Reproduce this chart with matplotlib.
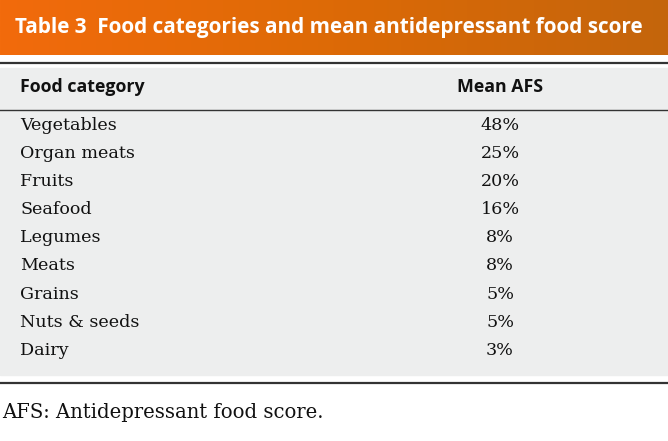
import matplotlib
matplotlib.use("Agg")
import matplotlib.pyplot as plt
import numpy as np
from matplotlib.colors import LinearSegmentedColormap

title = "Table 3  Food categories and mean antidepressant food score"
col_headers = ["Food category", "Mean AFS"]
categories = ["Vegetables", "Organ meats", "Fruits", "Seafood", "Legumes",
              "Meats", "Grains", "Nuts & seeds", "Dairy"]
mean_afs = [48, 25, 20, 16, 8, 8, 5, 5, 3]
footnote = "AFS: Antidepressant food score."

W, H = 668, 441
fig = plt.figure(figsize=(W / 100, H / 100), dpi=100)
ax = fig.add_axes([0, 0, 1, 1])
ax.set_xlim(0, W)
ax.set_ylim(H, 0)
ax.axis("off")

# orange gradient banner
cmap = LinearSegmentedColormap.from_list("ban", ["#F26B0C", "#DD6A06", "#C4650C"])
grad = np.linspace(0, 1, 256).reshape(1, -1)
ax.imshow(grad, cmap=cmap, extent=(0, W, 55, 0), aspect="auto", zorder=1)
ax.text(15, 28, title, color="white", fontsize=14.95, fontweight="bold",
        family="Open Sans", va="center", ha="left", zorder=3)

# gray table body
ax.add_patch(plt.Rectangle((0, 68), W, 307, color="#EDEEEE", zorder=1))
ax.plot([0, W], [63, 63], color="#333333", lw=1.6, zorder=2)
ax.plot([0, W], [110, 110], color="#333333", lw=1.0, zorder=2)
ax.plot([0, W], [383, 383], color="#333333", lw=1.6, zorder=2)

ax.text(20, 87, col_headers[0], fontsize=12.8, fontweight="bold",
        family="Open Sans", va="center", ha="left", color="#111111")
ax.text(500, 87, col_headers[1], fontsize=12.8, fontweight="bold",
        family="Open Sans", va="center", ha="center", color="#111111")

for i, (c, v) in enumerate(zip(categories, mean_afs)):
    y = 125 + i * 28.2
    ax.text(20, y, c, fontsize=12.6, family="DejaVu Serif", va="center",
            ha="left", color="#111111")
    ax.text(500, y, f"{v}%", fontsize=12.6, family="DejaVu Serif",
            va="center", ha="center", color="#111111")

ax.text(2, 412, footnote, fontsize=14.1, family="DejaVu Serif", va="center",
        ha="left", color="#111111")

fig.savefig("out.png", dpi=100)
